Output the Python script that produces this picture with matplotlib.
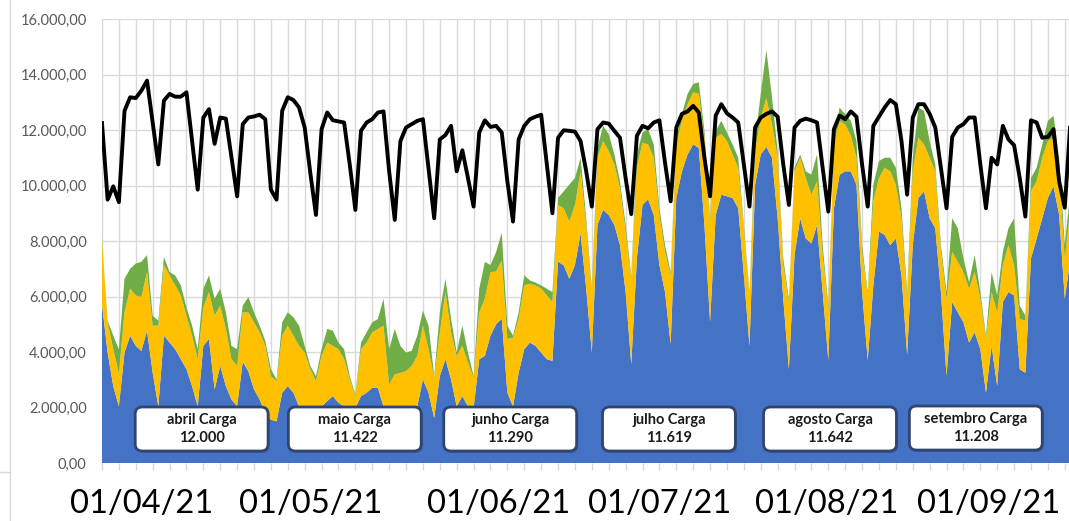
import numpy as np
import matplotlib.pyplot as plt
from matplotlib.patches import FancyBboxPatch
from matplotlib.lines import Line2D
from matplotlib.ticker import FuncFormatter, MultipleLocator

plt.rcParams['font.family'] = ['Lato', 'DejaVu Sans']

# valores diarios a partir de 01/04/21
carga = [12250, 9490, 9970, 9400, 12690, 13180, 13150, 13420, 13780, 12270,
         10760, 13060, 13300, 13200, 13200, 13360, 11600, 9850, 12450, 12750,
         11500, 12450, 12410, 11000, 9610, 12210, 12450, 12490, 12550, 12390,
         9850, 9490, 12690, 13180, 13080, 12810, 12090, 10450, 8940, 12030,
         12630, 12350, 12310, 12270, 10760, 9120, 11970, 12270, 12390, 12630,
         12670, 10510, 8760, 11600, 12090, 12210, 12330, 12390, 10600, 8820,
         11660, 11820, 12150, 10510, 11270, 10270, 9240, 11910, 12350, 12110,
         12150, 11910, 10150, 8700, 11660, 12150, 12390, 12480, 12550, 10760,
         9000, 11720, 11990, 11970, 11940, 11600, 10510, 9240, 12030, 12270,
         12230, 11970, 11720, 10270, 8970, 11790, 12150, 12060, 12270, 12350,
         10820, 9430, 12090, 12580, 12670, 12870, 12630, 11000, 9610, 12520,
         12930, 12600, 12450, 12270, 10760, 9240, 12090, 12450, 12580, 12670,
         12480, 10760, 9300, 12090, 12330, 12410, 12350, 12270, 10630, 9060,
         12030, 12520, 12390, 12670, 12480, 10760, 9240, 12150, 12480, 12810,
         13080, 12930, 11600, 9670, 12450, 12930, 12930, 12580, 12090, 10630,
         9180, 11750, 12090, 12210, 12450, 12450, 10760, 9180, 11000, 10760,
         12150, 11660, 11450, 10270, 8880, 12350, 12270, 11720, 11750, 12030,
         10150, 9200, 12300]

azul = [5700, 3980, 2770, 2040, 3980, 4590, 4220, 4040, 4770, 3250,
        2040, 4590, 4340, 4100, 3740, 3380, 2770, 2040, 4220, 4470,
        2650, 3500, 2770, 2290, 2040, 3650, 3300, 2650, 2290, 1800,
        1560, 1500, 2530, 2770, 2530, 2040, 1920, 1800, 1680, 2040,
        2230, 2410, 2170, 2040, 1980, 1980, 2410, 2530, 2710, 2710,
        2040, 2040, 2040, 2040, 2040, 2040, 2040, 3010, 2530, 1620,
        3130, 3740, 3010, 2040, 2410, 2040, 1980, 3740, 3860, 4590,
        5000, 5200, 2530, 2040, 3250, 4100, 4340, 4220, 3980, 3740,
        3680, 7250, 7130, 6640, 7130, 8280, 6280, 3980, 8580, 9120,
        8940, 8580, 7850, 6160, 3560, 7370, 9300, 9500, 8940, 7130,
        6160, 4280, 9550, 10510, 11120, 11480, 11360, 8580, 5070, 8940,
        9670, 9610, 9550, 9180, 6760, 4220, 10030, 11120, 11390, 11000,
        8820, 5920, 3380, 7490, 8820, 8090, 7910, 8580, 6160, 3700,
        9180, 10390, 10510, 10510, 10030, 6160, 3700, 6400, 8340, 8220,
        7850, 8090, 6760, 3900, 7850, 9550, 9790, 8820, 8460, 6160,
        3130, 5800, 5430, 5070, 4340, 4710, 4100, 2530, 4220, 2770,
        5800, 6160, 6040, 3380, 3250, 7370, 8090, 8820, 9550, 9970,
        8940, 5920, 7370]

amarelo = [2330, 1090, 1330, 1210, 1450, 1690, 1820, 1940, 2110, 1700,
           2910, 2540, 2420, 2300, 2300, 1930, 1820, 1700, 1390, 1690,
           2660, 2170, 2060, 1450, 1460, 1780, 2130, 2420, 2420, 2420,
           1570, 1450, 2060, 2180, 2060, 2180, 2060, 1580, 1270, 1820,
           2110, 1810, 1930, 1700, 1030, 430, 1690, 1810, 2000, 2120,
           2910, 790, 1150, 1210, 1270, 1460, 1820, 1940, 1570, 1450,
           1580, 2420, 1700, 1810, 1810, 1580, 1090, 1690, 2060, 2290,
           1900, 2100, 1940, 2480, 1940, 2300, 2120, 2180, 2300, 2300,
           2120, 2050, 2050, 2060, 2170, 2220, 2300, 2180, 2420, 2480,
           2300, 2180, 2060, 2180, 3080, 3270, 2240, 1980, 2060, 1810,
           1450, 2480, 1930, 1820, 1810, 1880, 1940, 3140, 3630, 2780,
           2180, 1990, 1570, 1460, 1700, 1820, 1210, 1330, 1760, 1210,
           2180, 1210, 2420, 3020, 2180, 2180, 1760, 1570, 1330, 1850,
           2300, 1940, 1700, 1280, 970, 1450, 2340, 3030, 1930, 2420,
           2660, 1940, 2060, 2020, 2660, 2170, 1690, 2180, 2050, 1450,
           2790, 1810, 1820, 1810, 1940, 2170, 1820, 1940, 1940, 2660,
           1330, 1690, 1090, 1810, 1880, 2420, 2060, 2180, 2050, 1750,
           1570, 1450, 1810]

verde = [70, 60, 490, 850, 1210, 720, 1150, 1270, 610, 360,
         180, 300, 120, 360, 360, 300, 360, 360, 670, 600,
         610, 610, 600, 480, 600, 240, 550, 360, 240, 180,
         250, 60, 480, 480, 660, 730, 240, 120, 180, 240,
         490, 550, 240, 360, 120, 60, 240, 370, 360, 360,
         970, 1270, 1640, 970, 670, 540, 730, 540, 850, 60,
         720, 480, 480, 130, 730, 360, 60, 850, 1330, 250,
         700, 1000, 480, 70, 240, 360, 120, 100, 120, 240,
         360, 250, 610, 1330, 970, 500, 240, 120, 360, 550,
         610, 360, 240, 240, 120, 480, 370, 550, 480, 240,
         240, 120, 240, 240, 370, 300, 420, 250, 120, 250,
         480, 310, 360, 360, 120, 120, 360, 850, 1730, 970,
         240, 240, 120, 130, 120, 240, 720, 970, 360, 120,
         120, 480, 360, 540, 600, 240, 120, 600, 610, 360,
         490, 610, 360, 240, 490, 1090, 1210, 600, 250, 240,
         240, 1210, 1210, 490, 240, 610, 240, 120, 720, 610,
         480, 610, 1690, 480, 180, 480, 490, 480, 730, 790,
         490, 480, 610]

datas = ['01/04/21', '01/05/21', '01/06/21', '01/07/21', '01/08/21', '01/09/21']
meses = ['abril Carga', 'maio Carga', 'junho Carga', 'julho Carga', 'agosto Carga', 'setembro Carga']
media_carga = ['12.000', '11.422', '11.290', '11.619', '11.642', '11.208']

# posicoes (em dias) dos rotulos e das caixas
pos_datas = [7.1, 37.0, 70.5, 99.1, 128.8, 157.5]
pos_caixas = [17.7, 44.9, 72.5, 100.7, 129.3, 155.2]

dias = np.arange(len(carga))

fig = plt.figure(figsize=(10.69, 5.21), dpi=100)
ax = fig.add_axes([102 / 1069, 1 - 463 / 521, 1 - 102 / 1069, 444 / 521])

ax.stackplot(dias, azul, amarelo, verde, colors=['#4472C4', '#FFC000', '#70AD47'],
             linewidth=0, zorder=2)
ax.plot(dias, carga, color='black', linewidth=2.8, zorder=6)

ax.set_xlim(0, 171.75)
ax.set_ylim(0, 16000)

ax.yaxis.set_major_locator(MultipleLocator(2000))
ax.yaxis.set_major_formatter(FuncFormatter(
    lambda v, p: f'{v:,.2f}'.replace(',', 'X').replace('.', ',').replace('X', '.')))
ax.tick_params(axis='y', length=0, pad=11, labelsize=10.5, labelcolor='#595959')

ax.xaxis.set_minor_locator(MultipleLocator(3))
ax.set_xticks(pos_datas)
ax.set_xticklabels(datas)
ax.tick_params(axis='x', which='major', length=0, pad=19, labelsize=23.5, labelcolor='black')
ax.tick_params(axis='x', which='minor', length=5, color='#D9D9D9', width=1)

ax.grid(axis='y', which='major', color='#D9D9D9', linewidth=1)
ax.grid(axis='x', which='minor', color='#D9D9D9', linewidth=1)
ax.set_axisbelow(True)
for s in ax.spines.values():
    s.set_visible(False)

# caixas com a carga media mensal
largura, altura = 23.6, 1586
for i in range(len(meses)):
    cy = 1260 if i == 5 else 1225
    sombra = FancyBboxPatch((pos_caixas[i] - largura / 2 + 0.3, cy - altura / 2 - 70), largura, altura,
                            boxstyle='round,pad=0,rounding_size=1.25', mutation_aspect=202,
                            fc='#2B3E5E', ec='none', alpha=0.35, zorder=4)
    ax.add_patch(sombra)
    caixa = FancyBboxPatch((pos_caixas[i] - largura / 2, cy - altura / 2), largura, altura,
                           boxstyle='round,pad=0,rounding_size=1.25', mutation_aspect=202,
                           fc='white', ec='#2F4470', lw=2, zorder=5)
    ax.add_patch(caixa)
    ax.text(pos_caixas[i], cy, f'{meses[i]}\n{media_carga[i]}', ha='center', va='center',
            fontsize=10.5, fontweight='bold', color='#1A1A1A', linespacing=1.4, zorder=6)

# borda da area do grafico
fig.add_artist(Line2D([10 / 1069, 10 / 1069], [0, 1], color='#D9D9D9', linewidth=1))
fig.add_artist(Line2D([0, 10 / 1069], [1 - 472 / 521, 1 - 472 / 521], color='#D9D9D9', linewidth=1))

fig.savefig('out.png', dpi=100)
